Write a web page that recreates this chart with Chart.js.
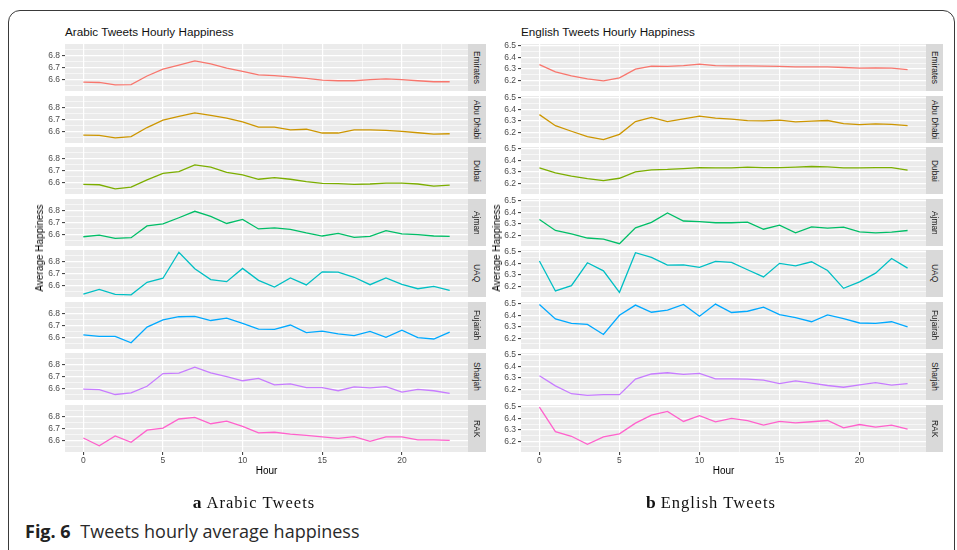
<!DOCTYPE html>
<html>
<head>
<meta charset="utf-8">
<script src="https://cdn.jsdelivr.net/npm/chart.js@4.4.1/dist/chart.umd.min.js"></script>
<style>
html,body{margin:0;padding:0;background:#fff;width:957px;height:550px;overflow:hidden;font-family:"Liberation Sans",Arial,sans-serif;}
#frame{position:absolute;left:8px;top:10px;width:947px;height:560px;border:1.5px solid #3a3a3a;border-radius:12px;box-sizing:border-box;}
.abs{position:absolute;}
.ptitle{font-size:11.7px;color:#111;white-space:nowrap;line-height:14px;}
.strip{position:absolute;background:#D9D9D9;display:flex;align-items:center;justify-content:center;overflow:hidden;}
.strip span{writing-mode:vertical-rl;font-size:8.4px;color:#1a1a1a;white-space:nowrap;}
.axt{position:absolute;font-size:10px;color:#000;white-space:nowrap;line-height:12px;}
.sub{position:absolute;font-family:"Liberation Serif","Times New Roman",serif;font-size:16.5px;letter-spacing:1.05px;color:#111;white-space:nowrap;line-height:20px;}
.sub b{font-size:17.5px;margin-right:5px;letter-spacing:0;}
#figcap{position:absolute;left:25px;top:520px;font-family:"Open Sans",sans-serif;font-size:18px;color:#2a2a2a;white-space:nowrap;line-height:22px;}
#figcap b{color:#222;margin-right:5px;}
</style>
</head>
<body>
<div id="frame"></div>
<script>
// ---------- data ----------
const hours = [0,1,2,3,4,5,6,7,8,9,10,11,12,13,14,15,16,17,18,19,20,21,22,23];
const facetNames = ['Emirates','Abu Dhabi','Dubai','Ajman','UAQ','Fujairah','Sharjah','RAK'];
const facetColors = ['#F8766D','#CD9600','#7CAE00','#00BE67','#00BFC4','#00A9FF','#C77CFF','#FF61CC'];

const xMajorTicks = [0,5,10,15,20];
const xMinorTicks = [2.5,7.5,12.5,17.5,22.5];
const arabicYTicks = [6.6,6.7,6.8];
const arabicYMinor = [6.55,6.65,6.75,6.85];
const englishYTicks = [6.2,6.3,6.4,6.5];
const englishYMinor = [6.15,6.25,6.35,6.45];

const arEmirates = [6.580,6.577,6.557,6.560,6.630,6.686,6.720,6.754,6.729,6.694,6.669,6.640,6.634,6.623,6.611,6.597,6.591,6.591,6.600,6.606,6.600,6.591,6.583,6.583];
const arAbuDhabi = [6.571,6.569,6.549,6.560,6.634,6.694,6.726,6.754,6.734,6.711,6.680,6.637,6.637,6.614,6.620,6.589,6.589,6.614,6.614,6.611,6.603,6.591,6.580,6.583];
const arDubai    = [6.586,6.583,6.549,6.563,6.623,6.676,6.690,6.746,6.727,6.685,6.665,6.628,6.642,6.628,6.608,6.594,6.592,6.586,6.589,6.597,6.597,6.589,6.572,6.580];
const arAjman    = [6.583,6.597,6.569,6.575,6.672,6.689,6.739,6.792,6.750,6.692,6.725,6.647,6.656,6.644,6.614,6.589,6.611,6.578,6.586,6.633,6.606,6.600,6.589,6.586];
const arUAQ      = [6.531,6.569,6.528,6.525,6.628,6.661,6.875,6.739,6.650,6.633,6.742,6.644,6.589,6.664,6.606,6.714,6.711,6.669,6.608,6.664,6.611,6.575,6.594,6.561];
const arFujairah = [6.623,6.611,6.611,6.558,6.687,6.746,6.772,6.775,6.741,6.761,6.718,6.670,6.668,6.704,6.642,6.654,6.631,6.617,6.651,6.603,6.662,6.600,6.589,6.645];
const arSharjah  = [6.597,6.592,6.552,6.566,6.620,6.724,6.727,6.777,6.730,6.699,6.665,6.685,6.631,6.639,6.608,6.608,6.583,6.614,6.606,6.617,6.572,6.594,6.583,6.561];
const arRAK      = [6.622,6.558,6.639,6.586,6.686,6.703,6.778,6.792,6.739,6.761,6.717,6.664,6.669,6.653,6.644,6.631,6.619,6.633,6.594,6.631,6.631,6.606,6.606,6.603];

const enEmirates = [6.338,6.274,6.238,6.212,6.194,6.221,6.297,6.324,6.321,6.329,6.341,6.329,6.326,6.326,6.324,6.321,6.318,6.318,6.318,6.312,6.306,6.309,6.306,6.294];
const enAbuDhabi = [6.355,6.258,6.209,6.161,6.135,6.182,6.294,6.330,6.294,6.318,6.342,6.324,6.315,6.303,6.300,6.306,6.291,6.297,6.303,6.276,6.267,6.273,6.270,6.258];
const enDubai    = [6.335,6.291,6.262,6.241,6.224,6.244,6.300,6.318,6.321,6.329,6.338,6.335,6.335,6.341,6.338,6.338,6.341,6.347,6.344,6.335,6.335,6.338,6.338,6.315];
const enAjman    = [6.339,6.242,6.212,6.176,6.167,6.126,6.265,6.313,6.396,6.325,6.319,6.310,6.310,6.316,6.253,6.289,6.221,6.274,6.262,6.271,6.230,6.221,6.227,6.242];
const enUAQ      = [6.421,6.159,6.206,6.406,6.335,6.147,6.494,6.453,6.385,6.388,6.365,6.418,6.410,6.345,6.282,6.401,6.379,6.415,6.338,6.182,6.238,6.315,6.444,6.359];
const enFujairah = [6.497,6.369,6.331,6.322,6.233,6.402,6.491,6.428,6.446,6.497,6.393,6.500,6.426,6.437,6.473,6.408,6.381,6.345,6.405,6.372,6.334,6.331,6.345,6.301];
const enSharjah  = [6.319,6.230,6.161,6.147,6.153,6.153,6.289,6.334,6.345,6.331,6.339,6.292,6.292,6.289,6.280,6.250,6.274,6.253,6.233,6.218,6.239,6.259,6.236,6.250];
const enRAK      = [6.500,6.285,6.244,6.174,6.238,6.265,6.359,6.429,6.462,6.374,6.424,6.371,6.400,6.382,6.341,6.374,6.362,6.371,6.382,6.318,6.347,6.324,6.341,6.306];

// ---------- layout ----------
const FONT = '"Liberation Sans", Arial, sans-serif';
const PANEL_TOP = 44, PANEL_STEP = 51.57, PANEL_H = 47;
const YAX_W = 30, XAX_H = 22, TOP_PAD = 5;

const sides = [
  { title:'Arabic Tweets Hourly Happiness', plotLeft:65, plotWidth:403, stripW:18,
    yMin:6.507, yMax:6.893, yMajor:arabicYTicks, yMinor:arabicYMinor, yTitleX:40,
    series:[arEmirates,arAbuDhabi,arDubai,arAjman,arUAQ,arFujairah,arSharjah,arRAK],
    sub:['a','Arabic Tweets'], subCenter:254 },
  { title:'English Tweets Hourly Happiness', plotLeft:521, plotWidth:405, stripW:17,
    yMin:6.106, yMax:6.518, yMajor:englishYTicks, yMinor:englishYMinor, yTitleX:497,
    series:[enEmirates,enAbuDhabi,enDubai,enAjman,enUAQ,enFujairah,enSharjah,enRAK],
    sub:['b','English Tweets'], subCenter:711 }
];

const bgPlugin = {
  id:'panelBg',
  beforeDraw(chart){
    const {ctx, chartArea:a} = chart;
    ctx.save();
    ctx.fillStyle = '#EBEBEB';
    ctx.fillRect(a.left, a.top, a.right-a.left, a.bottom-a.top);
    ctx.restore();
  }
};

const near = (v, list) => list.some(t => Math.abs(t - v) < 1e-6);

function addDiv(cls, css, html){
  const d = document.createElement('div');
  d.className = cls; d.style.cssText = css; d.innerHTML = html;
  document.body.appendChild(d);
  return d;
}

sides.forEach(side => {
  addDiv('abs ptitle', `left:${side.plotLeft}px;top:25px;`, side.title);
  const yTicksAll = side.yMajor.concat(side.yMinor).sort((a,b)=>a-b);
  const xTicksAll = xMajorTicks.concat(xMinorTicks).sort((a,b)=>a-b);

  side.series.forEach((vals, i) => {
    const isBottom = i === side.series.length - 1;
    const top = Math.round(PANEL_TOP + i*PANEL_STEP);
    const cw = side.plotWidth + YAX_W;
    const ch = TOP_PAD + PANEL_H + (isBottom ? XAX_H : 0);
    const wrap = addDiv('abs', `left:${side.plotLeft - YAX_W}px;top:${top - TOP_PAD}px;width:${cw}px;height:${ch}px;`, '');
    const canvas = document.createElement('canvas');
    canvas.width = cw; canvas.height = ch;
    canvas.style.width = cw + 'px'; canvas.style.height = ch + 'px';
    wrap.appendChild(canvas);

    new Chart(canvas, {
      type:'line',
      data:{ datasets:[{
        data: hours.map((h,k)=>({x:h, y:vals[k]})),
        borderColor: facetColors[i], borderWidth:1.3,
        pointRadius:0, fill:false, tension:0
      }]},
      options:{
        responsive:false, animation:false, devicePixelRatio:1,
        layout:{padding:{top:TOP_PAD, left:0, right:0, bottom:0}},
        plugins:{legend:{display:false}, tooltip:{enabled:false}, title:{display:false}},
        scales:{
          x:{
            type:'linear', min:-1.15, max:24.15,
            border:{display:false},
            afterBuildTicks: s => { s.ticks = xTicksAll.map(v=>({value:v})); },
            afterFit: s => { s.height = isBottom ? XAX_H : 0; s.paddingLeft = 0; s.paddingRight = 0; },
            grid:{
              color:'#FFFFFF',
              lineWidth: c => near(c.tick.value, xMajorTicks) ? 1.2 : 0.6,
              drawTicks:isBottom, tickLength:3, tickWidth:1,
              tickColor: c => near(c.tick.value, xMajorTicks) ? '#333333' : 'rgba(0,0,0,0)'
            },
            ticks:{
              display:isBottom, autoSkip:false, maxRotation:0, minRotation:0, padding:1,
              color:'#4D4D4D', font:{family:FONT, size:8.5},
              callback: v => near(v, xMajorTicks) ? String(v) : ''
            }
          },
          y:{
            type:'linear', min:side.yMin, max:side.yMax,
            border:{display:false},
            afterBuildTicks: s => { s.ticks = yTicksAll.map(v=>({value:v})); },
            afterFit: s => { s.width = YAX_W; s.paddingTop = 0; s.paddingBottom = 0; },
            grid:{
              color:'#FFFFFF',
              lineWidth: c => near(c.tick.value, side.yMajor) ? 1.2 : 0.6,
              drawTicks:true, tickLength:3, tickWidth:1,
              tickColor: c => near(c.tick.value, side.yMajor) ? '#333333' : 'rgba(0,0,0,0)'
            },
            ticks:{
              autoSkip:false, padding:2, color:'#4D4D4D', font:{family:FONT, size:8.5},
              callback: v => near(v, side.yMajor) ? Number(v).toFixed(1) : ''
            }
          }
        }
      },
      plugins:[bgPlugin]
    });

    addDiv('strip', `left:${side.plotLeft + side.plotWidth}px;top:${top}px;width:${side.stripW}px;height:${PANEL_H}px;`, `<span>${facetNames[i]}</span>`);
  });

  // axis titles
  const midY = PANEL_TOP + (PANEL_STEP*7 + PANEL_H)/2;
  addDiv('axt', `left:${side.yTitleX}px;top:${midY}px;transform:translate(-50%,-50%) rotate(-90deg);`, 'Average Happiness');
  addDiv('axt', `left:${side.plotLeft + side.plotWidth/2}px;top:471px;transform:translate(-50%,-50%);`, 'Hour');
  addDiv('sub', `left:${side.subCenter}px;top:492px;transform:translateX(-50%);`, `<b>${side.sub[0]}</b>${side.sub[1]}`);
});

const cap = document.createElement('div');
cap.id = 'figcap';
cap.innerHTML = '<b>Fig. 6</b> Tweets hourly average happiness';
document.body.appendChild(cap);
</script>
</body>
</html>
